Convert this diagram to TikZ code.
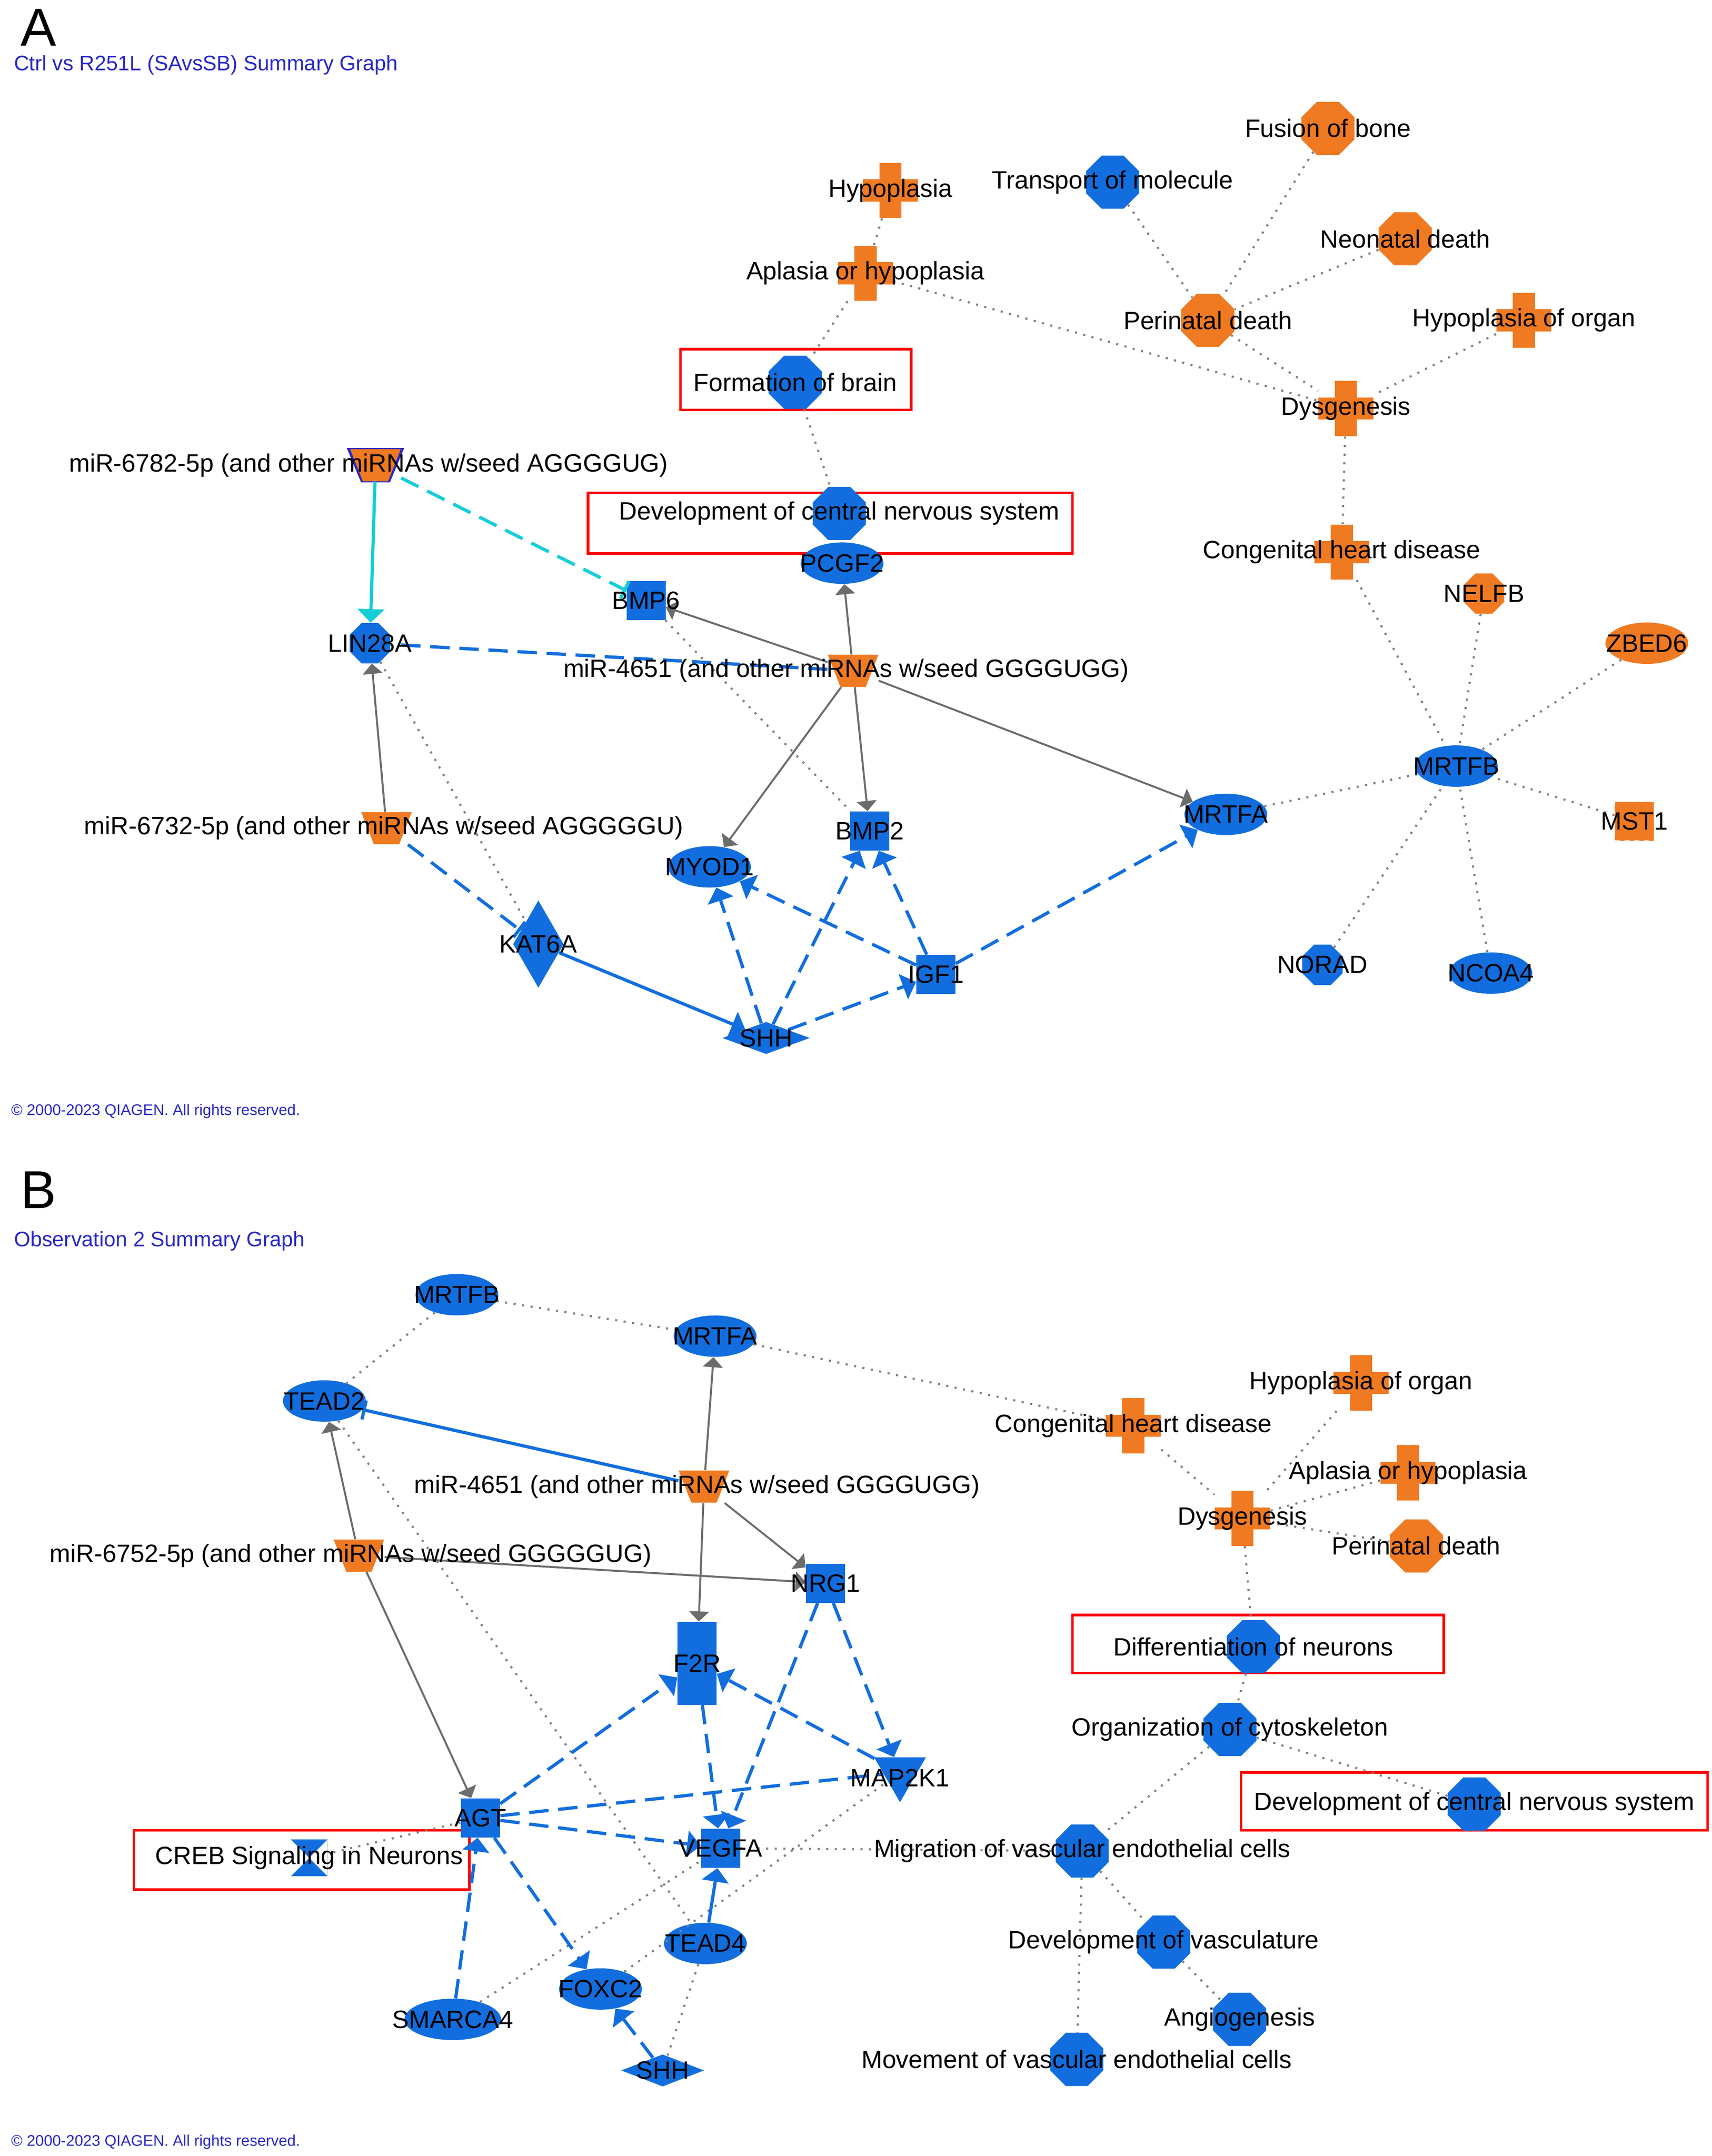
\documentclass[tikz,border=0pt]{standalone}
\usepackage{fontspec}
\setmainfont{Liberation Sans}
\usetikzlibrary{arrows,shapes,calc}
\definecolor{ipablue}{RGB}{18,110,222}
\definecolor{ipaorange}{RGB}{240,122,34}
\definecolor{ipacyan}{RGB}{20,205,215}
\definecolor{hdrblue}{RGB}{40,40,200}
\tikzset{
  lbl/.style={font=\fontsize{15.5}{18}\selectfont,inner sep=0pt},
  oct/.style={regular polygon,regular polygon sides=8,fill=#1,minimum size=1.25cm,inner sep=0pt},
  ell/.style={ellipse,fill=#1,minimum width=1.8cm,minimum height=0.9cm,inner sep=0pt},
  sq/.style={rectangle,fill=#1,minimum size=0.85cm,inner sep=0pt},
  dia/.style={diamond,fill=ipablue,minimum width=#1,minimum height=0.7cm,inner sep=0pt},
  mir/.style={rectangle,minimum width=1.1cm,minimum height=0.7cm,inner sep=0pt,path picture={
     \fill[#1] (path picture bounding box.north west) -- (path picture bounding box.north east)
        -- ($(path picture bounding box.south east)!0.25!(path picture bounding box.south west)$)
        -- ($(path picture bounding box.south east)!0.75!(path picture bounding box.south west)$) -- cycle;}},
  mir/.default=ipaorange,
  crs/.style={rectangle,minimum size=1.2cm,inner sep=0pt,path picture={
     \fill[ipaorange] ($(path picture bounding box.south west)!0.3!(path picture bounding box.south east)$) rectangle ($(path picture bounding box.north west)!0.7!(path picture bounding box.north east)$);
     \fill[ipaorange] ($(path picture bounding box.south west)!0.3!(path picture bounding box.north west)$) rectangle ($(path picture bounding box.south east)!0.7!(path picture bounding box.north east)$);}},
  hl/.style={draw=red,line width=1.6pt},
  dotl/.style={gray,dash pattern=on 1.3pt off 4pt,line width=1.3pt},
  act/.style={->,>=triangle 90,gray!85!black,line width=1.2pt},
  dsh/.style={->,>=triangle 90,ipablue,dash pattern=on 12pt off 6pt,line width=2pt},
}
\begin{document}
\begin{tikzpicture}[x=0.03cm,y=-0.03cm]
  \useasboundingbox (0,0) rectangle (1240,1562);
  % ---------- panel A ----------
  \node[font=\fontsize{33}{36}\selectfont] at (28,20) {A};
  \node[anchor=west,text=hdrblue,font=\fontsize{13}{15}\selectfont] at (6,47) {Ctrl vs R251L (SAvsSB) Summary Graph};
  \node[anchor=west,text=hdrblue,font=\fontsize{9.5}{11}\selectfont] at (4,805) {© 2000-2023 QIAGEN. All rights reserved.};
  \draw[hl] (493,253) rectangle (660,297);
  \draw[hl] (426,357) rectangle (777,401);

  \node[oct=ipaorange] (fusA) at (962,93) {};
  \node[oct=ipablue] (trnA) at (806,132) {};
  \node[crs] (hypA) at (645,138) {};
  \node[oct=ipaorange] (neoA) at (1018,173) {};
  \node[crs] (aplA) at (627,198) {};
  \node[oct=ipaorange] (periA) at (875,232) {};
  \node[crs] (hyporgA) at (1104,232) {};
  \node[oct=ipablue] (fobA) at (576,277) {};
  \node[crs] (dysA) at (975,296) {};
  \node[mir=hdrblue,minimum width=1.25cm,minimum height=0.75cm] (m6782Ab) at (272,337) {};
  \node[mir] (m6782A) at (272,337) {};
  \node[oct=ipablue] (cnsA) at (608,372) {};
  \node[crs] (chdA) at (972,400) {};
  \node[ell=ipablue] (pcgfA) at (610,408) {};
  \node[sq=ipablue] (bmp6A) at (468,435) {};
  \node[oct=ipaorange,minimum size=0.95cm] (nelfA) at (1075,430) {};
  \node[oct=ipablue,minimum size=0.95cm] (linA) at (268,466) {};
  \node[ell=ipaorange] (zbedA) at (1193,466) {};
  \node[mir] (m4651A) at (618,486) {};
  \node[ell=ipablue] (mrtfbA) at (1055,555) {};
  \node[ell=ipablue] (mrtfaA) at (888,590) {};
  \node[mir] (m6732A) at (280,600) {};
  \node[sq=ipablue] (bmp2A) at (630,602) {};
  \node[sq=ipaorange,draw=white,dashed] (mstA) at (1184,595) {};
  \node[ell=ipablue] (myodA) at (514,628) {};
  \node[diamond,fill=ipablue,minimum width=1.1cm,minimum height=1.9cm,inner sep=0pt] (katA) at (390,684) {};
  \node[oct=ipablue,minimum size=0.95cm] (norA) at (958,699) {};
  \node[ell=ipablue] (ncoA) at (1080,705) {};
  \node[sq=ipablue] (igfA) at (678,706) {};
  \node[dia=1.9cm] (shhA) at (555,752) {};

  \draw[dotl] (fusA) -- (periA);
  \draw[dotl] (trnA) -- (periA);
  \draw[dotl] (neoA) -- (periA);
  \draw[dotl] (periA) -- (dysA);
  \draw[dotl] (hyporgA) -- (dysA);
  \draw[dotl] (aplA) -- (dysA);
  \draw[dotl] (hypA) -- (aplA);
  \draw[dotl] (aplA) -- (fobA);
  \draw[dotl] (fobA) -- (cnsA);
  \draw[dotl] (dysA) -- (chdA);
  \draw[dotl] (chdA) -- (mrtfbA);
  \draw[dotl] (nelfA) -- (mrtfbA);
  \draw[dotl] (zbedA) -- (mrtfbA);
  \draw[dotl] (mstA) -- (mrtfbA);
  \draw[dotl] (norA) -- (mrtfbA);
  \draw[dotl] (ncoA) -- (mrtfbA);
  \draw[dotl] (mrtfaA) -- (mrtfbA);
  \draw[dotl] (linA) -- (katA);
  \draw[dotl] (bmp6A) -- (bmp2A);
  \draw[act] (m4651A) -- (pcgfA);
  \draw[act] (m4651A) -- (bmp6A);
  \draw[act] (m4651A) -- (bmp2A);
  \draw[act] (m4651A) -- (myodA);
  \draw[act] (m4651A) -- (mrtfaA);
  \draw[act] (m6732A) -- (linA);
  \draw[->,>=triangle 90,ipacyan,line width=2pt] (m6782A) -- (linA);
  \draw[-|,ipacyan,dash pattern=on 12pt off 6pt,line width=2pt] (m6782A) -- (bmp6A);
  \draw[dsh,-] (m4651A) -- (linA);
  \draw[dsh,-|] (m6732A) -- (katA);
  \draw[dsh,solid] (katA) -- (shhA);
  \draw[dsh] (shhA) -- (igfA);
  \draw[dsh] (shhA) -- (myodA);
  \draw[dsh] (shhA) -- (bmp2A);
  \draw[dsh] (igfA) -- (myodA);
  \draw[dsh] (igfA) -- (bmp2A);
  \draw[dsh] (igfA) -- (mrtfaA);

  \node[lbl] at (fusA) {Fusion of bone};
  \node[lbl] at (trnA) {Transport of molecule};
  \node[lbl] at (hypA) {Hypoplasia};
  \node[lbl] at (neoA) {Neonatal death};
  \node[lbl] at (aplA) {Aplasia or hypoplasia};
  \node[lbl] at (periA) {Perinatal death};
  \node[lbl] at (hyporgA) {Hypoplasia of organ};
  \node[lbl] at (fobA) {Formation of brain};
  \node[lbl] at (dysA) {Dysgenesis};
  \node[lbl] at (267,337) {miR-6782-5p (and other miRNAs w/seed AGGGGUG)};
  \node[lbl] at (cnsA) {Development of central nervous system};
  \node[lbl] at (chdA) {Congenital heart disease};
  \node[lbl] at (pcgfA) {PCGF2};
  \node[lbl] at (bmp6A) {BMP6};
  \node[lbl] at (nelfA) {NELFB};
  \node[lbl] at (linA) {LIN28A};
  \node[lbl] at (zbedA) {ZBED6};
  \node[lbl] at (613,486) {miR-4651 (and other miRNAs w/seed GGGGUGG)};
  \node[lbl] at (mrtfbA) {MRTFB};
  \node[lbl] at (mrtfaA) {MRTFA};
  \node[lbl] at (278,600) {miR-6732-5p (and other miRNAs w/seed AGGGGGU)};
  \node[lbl] at (bmp2A) {BMP2};
  \node[lbl] at (mstA) {MST1};
  \node[lbl] at (myodA) {MYOD1};
  \node[lbl] at (katA) {KAT6A};
  \node[lbl] at (norA) {NORAD};
  \node[lbl] at (ncoA) {NCOA4};
  \node[lbl] at (igfA) {IGF1};
  \node[lbl] at (shhA) {SHH};

  % ---------- panel B ----------
  \node[font=\fontsize{33}{36}\selectfont] at (28,862) {B};
  \node[anchor=west,text=hdrblue,font=\fontsize{13}{15}\selectfont] at (6,899) {Observation 2 Summary Graph};
  \node[anchor=west,text=hdrblue,font=\fontsize{9.5}{11}\selectfont] at (4,1552) {© 2000-2023 QIAGEN. All rights reserved.};
  \draw[hl] (777,1170) rectangle (1046,1212);
  \draw[hl] (899,1284) rectangle (1237,1326);
  \draw[hl] (97,1326) rectangle (340,1369);

  \node[ell=ipablue] (mrtfbB) at (331,938) {};
  \node[ell=ipablue] (mrtfaB) at (518,968) {};
  \node[ell=ipablue] (teadtwoB) at (235,1015) {};
  \node[crs] (hyporgB) at (986,1002) {};
  \node[crs] (chdB) at (821,1033) {};
  \node[mir] (m4651B) at (510,1077) {};
  \node[crs] (aplB) at (1020,1067) {};
  \node[crs] (dysB) at (900,1100) {};
  \node[oct=ipaorange] (periB) at (1026,1120) {};
  \node[mir] (m6752B) at (260,1127) {};
  \node[sq=ipablue] (nrgB) at (598,1147) {};
  \node[oct=ipablue] (difB) at (908,1193) {};
  \node[rectangle,fill=ipablue,minimum width=0.85cm,minimum height=1.8cm,inner sep=0pt] (ftrB) at (505,1205) {};
  \node[oct=ipablue] (orgB) at (891,1253) {};
  \node[regular polygon,regular polygon sides=3,shape border rotate=180,fill=ipablue,minimum size=1.3cm,inner sep=0pt] (mapB) at (652,1284) {};
  \node[oct=ipablue] (cnsB) at (1068,1307) {};
  \node[sq=ipablue] (agtB) at (348,1317) {};
  \node[fill=ipablue,inner sep=0pt,minimum size=0.8cm,path picture={\fill[white] (path picture bounding box.north west) -- (path picture bounding box.center) -- (path picture bounding box.south west) -- cycle (path picture bounding box.north east) -- (path picture bounding box.center) -- (path picture bounding box.south east) -- cycle;}] (crebB) at (224,1346) {};
  \node[sq=ipablue] (vegB) at (522,1339) {};
  \node[oct=ipablue] (migB) at (784,1341) {};
  \node[ell=ipablue] (teadfourB) at (511,1408) {};
  \node[oct=ipablue] (dvasB) at (843,1407) {};
  \node[ell=ipablue] (foxB) at (435,1441) {};
  \node[ell=ipablue,minimum width=2.1cm] (smaB) at (328,1463) {};
  \node[oct=ipablue] (angB) at (898,1463) {};
  \node[dia=1.8cm] (shhB) at (480,1500) {};
  \node[oct=ipablue] (movB) at (780,1492) {};

  \draw[dotl] (mrtfbB) -- (teadtwoB);
  \draw[dotl] (mrtfbB) -- (mrtfaB);
  \draw[dotl] (mrtfaB) -- (chdB);
  \draw[dotl] (chdB) -- (dysB);
  \draw[dotl] (hyporgB) -- (dysB);
  \draw[dotl] (aplB) -- (dysB);
  \draw[dotl] (periB) -- (dysB);
  \draw[dotl] (dysB) -- (difB);
  \draw[dotl] (difB) -- (orgB);
  \draw[dotl] (orgB) -- (cnsB);
  \draw[dotl] (orgB) -- (migB);
  \draw[dotl] (vegB) -- (migB);
  \draw[dotl] (migB) -- (dvasB);
  \draw[dotl] (migB) -- (movB);
  \draw[dotl] (dvasB) -- (angB);
  \draw[dotl] (teadtwoB) -- (teadfourB);
  \draw[dotl] (agtB) -- (crebB);
  \draw[dotl] (smaB) -- (vegB);
  \draw[dotl] (foxB) -- (mapB);
  \draw[dotl] (teadfourB) -- (shhB);
  \draw[act] (m4651B) -- (mrtfaB);
  \draw[act] (m4651B) -- (ftrB);
  \draw[act] (m4651B) -- (nrgB);
  \draw[act] (m6752B) -- (teadtwoB);
  \draw[act] (m6752B) -- (agtB);
  \draw[act] (m6752B) -- (nrgB);
  \draw[-|,ipablue,line width=2pt] (m4651B) -- (teadtwoB);
  \draw[dsh] (agtB) -- (ftrB);
  \draw[dsh,-] (agtB) -- (mapB);
  \draw[dsh] (agtB) -- (vegB);
  \draw[dsh] (agtB) -- (foxB);
  \draw[dsh] (smaB) -- (agtB);
  \draw[dsh] (nrgB) -- (vegB);
  \draw[dsh] (nrgB) -- (mapB);
  \draw[dsh] (ftrB) -- (vegB);
  \draw[dsh] (mapB) -- (ftrB);
  \draw[dsh,solid] (teadfourB) -- (vegB);
  \draw[dsh] (shhB) -- (foxB);

  \node[lbl] at (mrtfbB) {MRTFB};
  \node[lbl] at (mrtfaB) {MRTFA};
  \node[lbl] at (teadtwoB) {TEAD2};
  \node[lbl] at (hyporgB) {Hypoplasia of organ};
  \node[lbl] at (chdB) {Congenital heart disease};
  \node[lbl] at (505,1077) {miR-4651 (and other miRNAs w/seed GGGGUGG)};
  \node[lbl] at (aplB) {Aplasia or hypoplasia};
  \node[lbl] at (dysB) {Dysgenesis};
  \node[lbl] at (periB) {Perinatal death};
  \node[lbl] at (254,1127) {miR-6752-5p (and other miRNAs w/seed GGGGGUG)};
  \node[lbl] at (nrgB) {NRG1};
  \node[lbl] at (difB) {Differentiation of neurons};
  \node[lbl] at (ftrB) {F2R};
  \node[lbl] at (orgB) {Organization of cytoskeleton};
  \node[lbl] at (652,1288) {MAP2K1};
  \node[lbl] at (cnsB) {Development of central nervous system};
  \node[lbl] at (agtB) {AGT};
  \node[lbl] at (crebB) {CREB Signaling in Neurons};
  \node[lbl] at (vegB) {VEGFA};
  \node[lbl] at (migB) {Migration of vascular endothelial cells};
  \node[lbl] at (teadfourB) {TEAD4};
  \node[lbl] at (dvasB) {Development of vasculature};
  \node[lbl] at (foxB) {FOXC2};
  \node[lbl] at (smaB) {SMARCA4};
  \node[lbl] at (angB) {Angiogenesis};
  \node[lbl] at (shhB) {SHH};
  \node[lbl] at (movB) {Movement of vascular endothelial cells};
\end{tikzpicture}
\end{document}
